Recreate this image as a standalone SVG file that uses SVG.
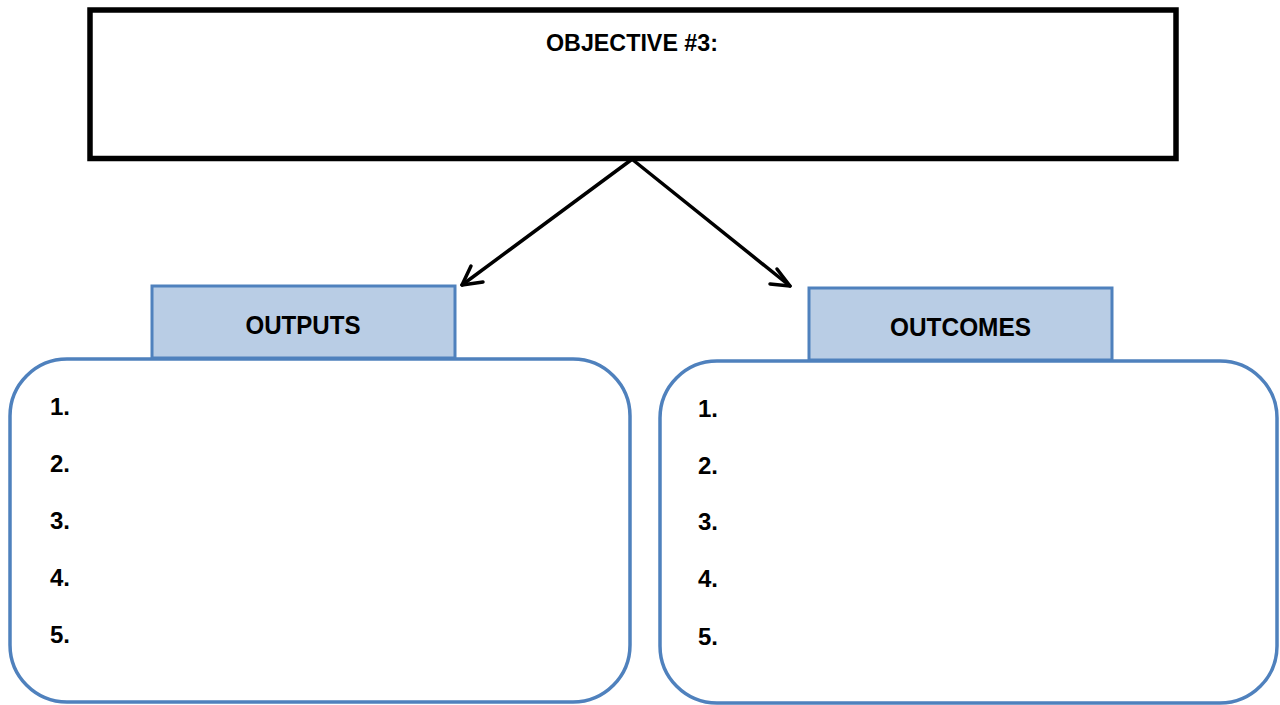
<svg xmlns="http://www.w3.org/2000/svg" width="1280" height="705" viewBox="0 0 1280 705">
<style>
  text { font-family: "Liberation Sans", Arial, sans-serif; font-weight: bold; fill: #000; }
  .hdr { fill: #B9CDE5; stroke: #4F81BD; stroke-width: 3; }
  .box { fill: #FFFFFF; stroke: #4F81BD; stroke-width: 3.5; }
  .num { font-size: 24px; }
  .conn { stroke: #000; stroke-width: 3.5; fill: none; stroke-linecap: round; stroke-linejoin: round; }
</style>
<rect width="1280" height="705" fill="#FFFFFF"/>
<g id="objective">
  <rect x="90" y="10" width="1086" height="148.5" fill="#FFFFFF" stroke="#000" stroke-width="5.5"/>
  <text x="632" y="51" font-size="24" text-anchor="middle" textLength="172" lengthAdjust="spacingAndGlyphs">OBJECTIVE #3:</text>
</g>
<g id="connectors">
  <path class="conn" d="M631,160 L462,285"/>
  <path class="conn" d="M471,266 L462,285 L483,282"/>
  <path class="conn" d="M633,160 L790,286"/>
  <path class="conn" d="M777,269 L790,286 L770,284"/>
</g>
<g id="outputs">
  <rect class="box" x="10" y="359" width="620" height="343" rx="57" ry="57"/>
  <rect class="hdr" x="152" y="286" width="303" height="72"/>
  <text x="303" y="334" font-size="26" text-anchor="middle" textLength="115" lengthAdjust="spacingAndGlyphs">OUTPUTS</text>
  <text class="num" x="50" y="415">1.</text>
  <text class="num" x="50" y="472">2.</text>
  <text class="num" x="50" y="529">3.</text>
  <text class="num" x="50" y="586">4.</text>
  <text class="num" x="50" y="643">5.</text>
</g>
<g id="outcomes">
  <rect class="box" x="660" y="361" width="617" height="342" rx="57" ry="57"/>
  <rect class="hdr" x="809" y="288" width="303" height="72"/>
  <text x="960.5" y="336" font-size="26" text-anchor="middle" textLength="141" lengthAdjust="spacingAndGlyphs">OUTCOMES</text>
  <text class="num" x="698" y="417">1.</text>
  <text class="num" x="698" y="474">2.</text>
  <text class="num" x="698" y="530">3.</text>
  <text class="num" x="698" y="587">4.</text>
  <text class="num" x="698" y="645">5.</text>
</g>
</svg>
